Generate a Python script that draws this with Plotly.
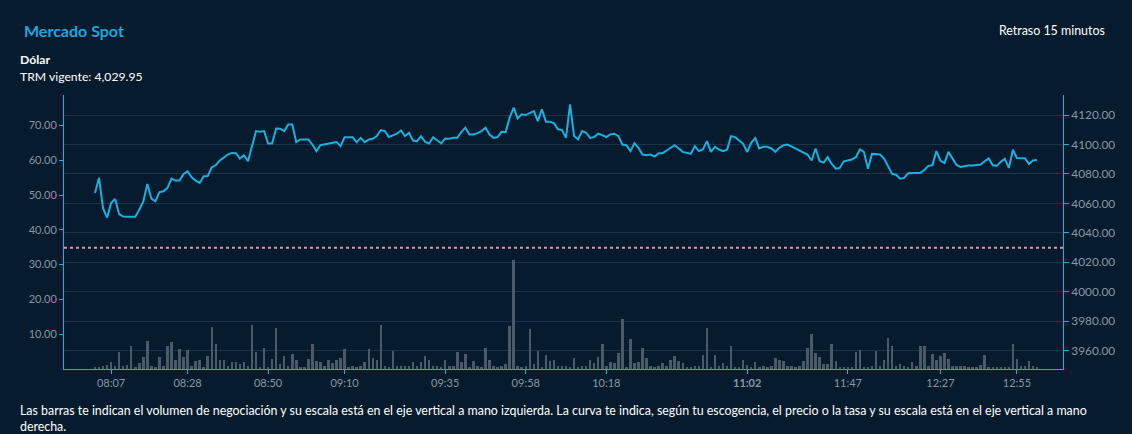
import plotly.graph_objects as go

# precio (curva, eje derecho) y volumen (barras, eje izquierdo), un punto por operación
precio = [
    4067.0, 4077.3, 4056.8, 4050.4, 4060.2, 4063.0, 4052.7, 4051.1, 4050.9, 4050.9,
    4050.9, 4055.7, 4061.4, 4073.2, 4063.2, 4061.4, 4067.7, 4068.2, 4070.5, 4076.8,
    4075.5, 4075.5, 4080.0, 4081.8, 4077.7, 4075.5, 4073.9, 4078.4, 4078.6, 4084.5,
    4085.9, 4089.1, 4090.9, 4093.2, 4094.3, 4094.1, 4090.5, 4092.7, 4088.6, 4098.9,
    4109.1, 4108.6, 4109.1, 4100.7, 4100.7, 4110.9, 4110.7, 4109.1, 4113.6, 4113.6,
    4101.6, 4103.4, 4103.4, 4103.4, 4100.0, 4095.5, 4099.5, 4100.0, 4100.5, 4100.7,
    4101.6, 4098.9, 4105.0, 4105.0, 4105.0, 4101.6, 4104.5, 4101.6, 4103.4, 4103.9,
    4105.7, 4109.8, 4109.1, 4105.0, 4106.4, 4107.3, 4109.5, 4105.7, 4108.0, 4102.7,
    4102.3, 4105.7, 4101.8, 4100.7, 4105.0, 4103.0, 4100.7, 4104.1, 4103.9, 4104.5,
    4104.5, 4108.4, 4111.4, 4106.8, 4106.8, 4107.7, 4109.1, 4111.4, 4106.8, 4104.5,
    4105.0, 4108.6, 4108.4, 4118.2, 4125.0, 4117.7, 4120.5, 4120.0, 4121.6, 4122.7,
    4115.9, 4123.9, 4115.5, 4115.5, 4114.4, 4110.3, 4109.8, 4104.6, 4127.3, 4105.7,
    4103.4, 4109.1, 4108.0, 4104.5, 4105.0, 4107.3, 4106.4, 4105.0, 4106.8, 4107.3,
    4105.7, 4100.0, 4099.5, 4095.5, 4100.9, 4097.7, 4093.2, 4092.7, 4093.2, 4091.8,
    4094.1, 4094.1, 4095.9, 4097.7, 4099.5, 4097.3, 4095.0, 4094.3, 4093.6, 4098.9,
    4095.5, 4096.6, 4102.3, 4095.0, 4098.4, 4096.6, 4095.5, 4096.4, 4105.7, 4105.0,
    4103.0, 4100.5, 4094.8, 4101.1, 4104.3, 4097.3, 4098.4, 4098.4, 4097.3, 4095.0,
    4097.7, 4099.5, 4100.0, 4098.9, 4097.3, 4095.9, 4094.5, 4093.2, 4089.1, 4097.3,
    4088.6, 4087.7, 4091.4, 4086.8, 4083.6, 4084.1, 4088.6, 4089.1, 4089.8, 4091.4,
    4096.6, 4095.0, 4083.6, 4093.6, 4093.6, 4093.2, 4090.5, 4085.2, 4080.0, 4079.5,
    4076.8, 4077.3, 4080.5, 4080.7, 4080.9, 4080.7, 4082.7, 4085.5, 4085.9, 4095.5,
    4089.1, 4087.5, 4095.0, 4090.9, 4086.1, 4084.8, 4085.5, 4085.7, 4085.7, 4085.9,
    4086.4, 4088.6, 4090.5, 4085.9, 4085.5, 4088.2, 4090.3, 4084.1, 4096.4, 4090.9,
    4090.9, 4090.7, 4086.8, 4089.1, 4089.4,
]

volumen = [
    0.4, 0.5, 0.8, 1.2, 2.1, 0.8, 4.8, 0.8, 1.2, 6.5,
    0.6, 1.7, 3.4, 8.0, 0.8, 0.6, 3.4, 0.8, 6.5, 7.7,
    2.5, 5.8, 3.5, 5.4, 0.8, 2.2, 2.5, 0.6, 3.7, 12.0,
    7.2, 2.7, 2.7, 0.8, 2.1, 2.1, 1.4, 1.9, 0.8, 12.6,
    4.8, 0.6, 6.1, 0.6, 2.9, 11.7, 1.3, 3.8, 1.0, 4.3,
    2.7, 0.6, 0.3, 2.9, 7.2, 2.2, 1.9, 0.8, 2.7, 1.7,
    2.7, 3.1, 5.8, 0.3, 0.8, 0.3, 0.8, 1.9, 5.8, 3.1,
    2.7, 12.6, 0.8, 0.3, 5.1, 1.0, 0.8, 0.8, 0.8, 1.9,
    1.0, 2.0, 3.7, 2.7, 1.0, 0.8, 0.6, 2.7, 1.0, 0.8,
    4.8, 1.9, 4.4, 0.3, 2.2, 0.8, 0.3, 6.1, 2.7, 0.8,
    0.6, 0.8, 1.4, 12.3, 31.3, 0.8, 0.3, 1.0, 11.6, 1.3,
    5.1, 0.3, 4.1, 2.2, 2.7, 0.8, 0.8, 0.8, 0.6, 3.1,
    0.6, 1.0, 0.8, 2.7, 1.7, 3.4, 7.2, 0.8, 1.9, 1.7,
    4.6, 14.4, 0.6, 8.7, 1.7, 2.0, 6.1, 3.1, 1.0, 0.3,
    0.8, 1.7, 1.0, 2.7, 3.7, 2.2, 1.7, 0.6, 0.3, 0.8,
    0.8, 4.0, 11.8, 0.6, 4.0, 1.0, 1.7, 1.0, 6.5, 0.3,
    0.6, 2.7, 1.2, 0.3, 1.9, 0.3, 0.8, 0.3, 0.8, 3.1,
    2.7, 2.2, 1.0, 0.8, 0.6, 0.8, 2.4, 6.1, 10.2, 4.6,
    3.4, 1.3, 1.3, 7.2, 2.4, 0.3, 0.3, 0.3, 0.3, 4.8,
    5.4, 0.3, 0.3, 0.8, 5.1, 1.0, 2.7, 8.8, 6.5, 1.0,
    1.4, 1.0, 0.6, 2.1, 0.8, 6.5, 6.5, 1.0, 4.3, 2.5,
    3.7, 4.6, 2.9, 0.8, 0.8, 0.8, 0.8, 0.3, 0.3, 0.3,
    1.2, 4.0, 0.3, 0.3, 0.3, 0.3, 0.3, 0.3, 7.1, 2.9,
    0.8, 0.8, 2.2, 0.8, 0.3,
]

# etiquetas del eje de tiempo (posición = número de operación)
tick_pos = [4, 23, 43, 62, 87, 107, 127, 162, 187, 210, 229]
tick_txt = ["08:07", "08:28", "08:50", "09:10", "09:35", "09:58", "10:18",
            "<b>11:02</b>", "11:47", "12:27", "12:55"]

trm = 4029.95
vol_ticks = [10, 20, 30, 40, 50, 60, 70]
precio_ticks = [3960, 3980, 4000, 4020, 4040, 4060, 4080, 4100, 4120]

idx = list(range(len(precio)))

bg = "#061b2d"
azul = "#1ab0e0"
gris_txt = "#8a97a4"
grid = "#1b3349"
font_fam = "Lato, 'Noto Sans', sans-serif"

fig = go.Figure()

fig.add_trace(go.Bar(
    x=idx, y=volumen, yaxis="y",
    marker=dict(color="#4b5a68", line=dict(width=0)),
    width=0.62, showlegend=False, hoverinfo="skip",
))

fig.add_trace(go.Scatter(
    x=idx, y=precio, yaxis="y2", mode="lines",
    line=dict(color=azul, width=2),
    showlegend=False,
))

# línea punteada de la TRM vigente
fig.add_shape(type="line", xref="paper", x0=0, x1=1, yref="y2", y0=trm, y1=trm,
              line=dict(color="#e8919f", width=2, dash="3px,3px"))

fig.update_layout(
    width=1132, height=434,
    margin=dict(l=64, r=69, t=95, b=65),
    paper_bgcolor=bg, plot_bgcolor=bg,
    font=dict(family=font_fam, color="white", size=12),
    bargap=0,
    xaxis=dict(
        range=[-7.7, 240.45],
        tickvals=tick_pos, ticktext=tick_txt,
        showgrid=False, zeroline=False,
        showline=True, linecolor=azul, linewidth=1,
        ticks="outside", ticklen=4, tickcolor=azul,
        tickfont=dict(color=gris_txt, size=11),
    ),
    yaxis=dict(
        range=[0, 78.75],
        tickvals=vol_ticks, tickformat=".2f",
        showgrid=False, zeroline=False,
        showline=True, linecolor=azul, linewidth=1,
        ticks="outside", ticklen=4, tickcolor=azul,
        tickfont=dict(color=gris_txt, size=11),
    ),
    yaxis2=dict(
        range=[3947.6, 4133.6], overlaying="y", side="right",
        tickvals=precio_ticks, tickformat=".2f",
        showgrid=True, gridcolor=grid, gridwidth=1, zeroline=False,
        showline=True, linecolor=azul, linewidth=1,
        ticks="outside", ticklen=5, tickcolor=azul,
        tickfont=dict(color=gris_txt, size=11.8),
    ),
)

fig.add_annotation(text="<b>Mercado Spot</b>", xref="paper", yref="paper",
                   x=-0.042, y=1.2336, xanchor="left", yanchor="middle",
                   showarrow=False, font=dict(color="#1ea7df", size=16))
fig.add_annotation(text="Retraso 15 minutos", xref="paper", yref="paper",
                   x=1.044, y=1.237, xanchor="right", yanchor="middle",
                   showarrow=False, font=dict(color="white", size=12.4))
fig.add_annotation(text="<b>Dólar</b>", xref="paper", yref="paper",
                   x=-0.046, y=1.131, xanchor="left", yanchor="middle",
                   showarrow=False, font=dict(color="white", size=12.2))
fig.add_annotation(text="TRM vigente: 4,029.95", xref="paper", yref="paper",
                   x=-0.046, y=1.066, xanchor="left", yanchor="middle",
                   showarrow=False, font=dict(color="white", size=12.2))
fig.add_annotation(
    text=("Las barras te indican el volumen de negociación y su escala está en el eje vertical a mano izquierda. "
          "La curva te indica, según tu escogencia, el precio o la tasa y su escala está en el eje vertical a mano"
          "<br>derecha."),
    xref="paper", yref="paper", x=-0.046, y=-0.118, xanchor="left", yanchor="top",
    align="left", showarrow=False, font=dict(color="white", size=12.4))

fig.write_html("out.html", config={"displayModeBar": False},
               post_script="document.body.style.margin='0';document.body.style.background='#061b2d';")
